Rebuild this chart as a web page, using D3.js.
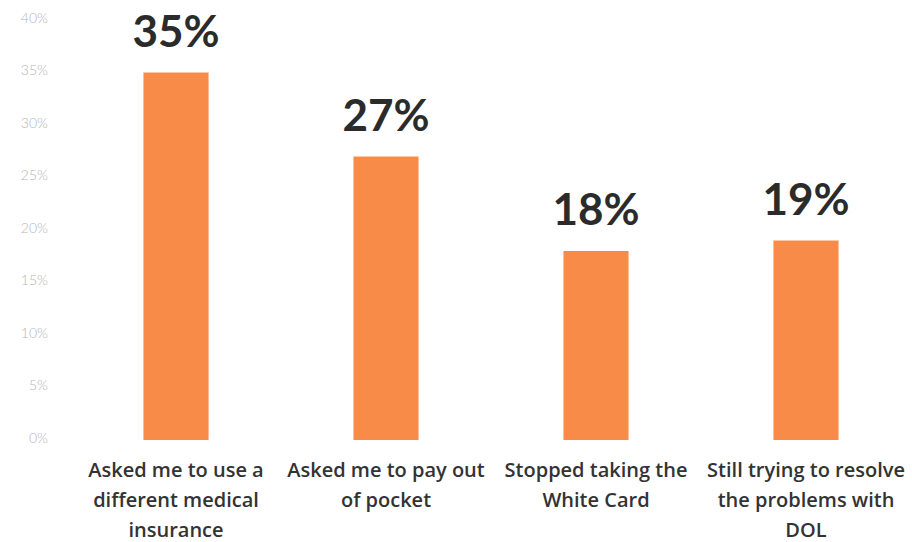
<!DOCTYPE html>
<html>
<head>
<meta charset="utf-8">
<script src="https://cdn.jsdelivr.net/npm/d3@7"></script>
<style>
  html, body { margin: 0; padding: 0; background: #ffffff; }
  svg { display: block; }
</style>
</head>
<body>
<svg id="chart" width="912" height="542"></svg>
<script>
// Survey responses: what providers did about the White Card
const categories = [
  ["Asked me to use a", "different medical", "insurance"],
  ["Asked me to pay out", "of pocket"],
  ["Stopped taking the", "White Card"],
  ["Still trying to resolve", "the problems with", "DOL"]
];
const values = [35, 27, 18, 19];
const valueLabels = ["35%", "27%", "18%", "19%"];
const tickValues = [0, 5, 10, 15, 20, 25, 30, 35, 40];

const svg = d3.select("#chart");

const x = d3.scaleBand()
  .domain(d3.range(categories.length))
  .range([71, 911])
  .paddingInner(0.69)
  .paddingOuter(0.345);

const y = d3.scaleLinear()
  .domain([0, 40])
  .range([440, 20]);

// y axis: tick labels only, no line or ticks
const yAxis = d3.axisLeft(y)
  .tickValues(tickValues)
  .tickFormat(d => d + "%")
  .tickSize(0)
  .tickPadding(0);

const yg = svg.append("g")
  .attr("transform", "translate(48,-2)")
  .call(yAxis);
yg.select(".domain").remove();
yg.selectAll("text")
  .attr("fill", "#b5b5b5")
  .style("font-family", "Lato, 'Open Sans', sans-serif")
  .style("font-weight", "300")
  .style("font-size", "14px");

// bars
svg.append("g")
  .selectAll("rect")
  .data(values)
  .join("rect")
  .attr("x", (d, i) => x(i))
  .attr("y", d => y(d))
  .attr("width", x.bandwidth())
  .attr("height", d => y(0) - y(d))
  .attr("fill", "#F98B49");

// value labels above bars
svg.append("g")
  .selectAll("text")
  .data(values)
  .join("text")
  .attr("x", (d, i) => x(i) + x.bandwidth() / 2)
  .attr("y", d => y(d) - 26)
  .attr("text-anchor", "middle")
  .attr("fill", "#2b2b2b")
  .style("font-family", "Lato, 'Open Sans', sans-serif")
  .style("font-weight", "700")
  .style("font-size", "44px")
  .text((d, i) => valueLabels[i]);

// category labels (multi-line)
const cat = svg.append("g")
  .selectAll("text")
  .data(categories)
  .join("text")
  .attr("x", (d, i) => x(i) + x.bandwidth() / 2)
  .attr("y", 477)
  .attr("text-anchor", "middle")
  .attr("fill", "#333333")
  .style("font-family", "'Open Sans', Lato, sans-serif")
  .style("font-weight", "600")
  .style("font-size", "20px");

cat.selectAll("tspan")
  .data(d => d)
  .join("tspan")
  .attr("x", function() { return d3.select(this.parentNode).attr("x"); })
  .attr("dy", (d, i) => i === 0 ? 0 : 30)
  .text(d => d);
</script>
</body>
</html>
